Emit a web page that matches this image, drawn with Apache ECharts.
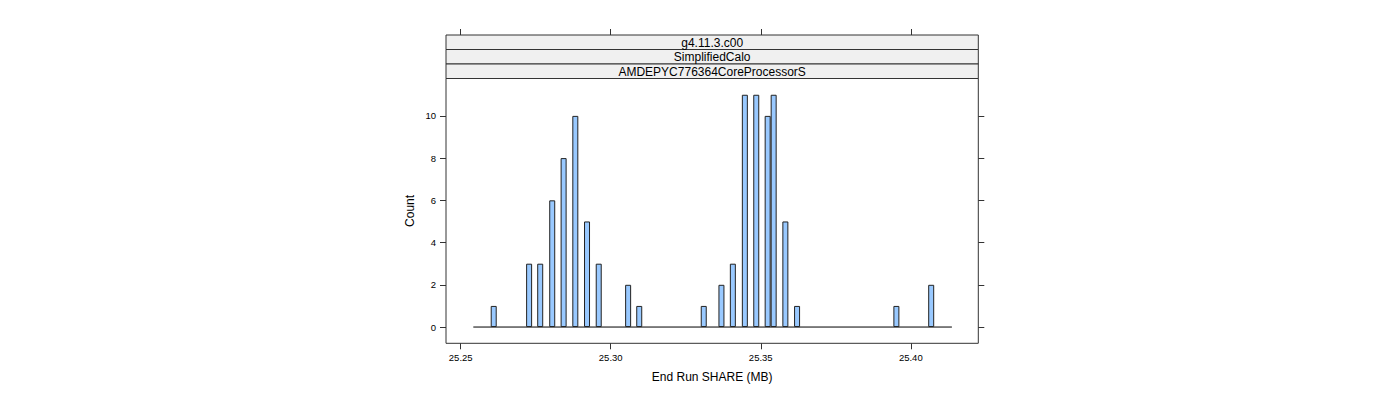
<!DOCTYPE html>
<html>
<head>
<meta charset="utf-8">
<script src="https://cdn.jsdelivr.net/npm/echarts@6/dist/echarts.min.js"></script>
<style>html,body{margin:0;padding:0;background:#fff;}#c{width:1400px;height:400px;}</style>
</head>
<body>
<div id="c"></div>
<script>
// End Run SHARE (MB) values for each bar
const shareValues = [25.2610, 25.2728, 25.2765, 25.2805, 25.2843, 25.2882, 25.2921, 25.2960, 25.3058, 25.3095,
                     25.3310, 25.3369, 25.3407, 25.3447, 25.3485, 25.3523, 25.3543, 25.3582, 25.3621, 25.3952, 25.4068];
const counts = [1, 3, 3, 6, 8, 10, 5, 3, 2, 1,
                1, 2, 3, 11, 11, 10, 11, 5, 1, 1, 2];
const baselineRange = [25.2542, 25.4137];
const xTicks = [25.25, 25.30, 25.35, 25.40];
const yTicks = [0, 2, 4, 6, 8, 10];
const stripLabels = ["g4.11.3.c00", "SimplifiedCalo", "AMDEPYC776364CoreProcessorS"];
const xTitle = "End Run SHARE (MB)";
const yTitle = "Count";

const FONT = "Liberation Sans, Arial, Helvetica, sans-serif";
const G = {left: 446, right: 978.3, top: 78.5, bottom: 343.3};
const stripTop = 35, stripH = 14.5;

const chart = echarts.init(document.getElementById('c'), null, {renderer: 'svg'});

const strips = [];
stripLabels.forEach((t, i) => {
  strips.push({
    type: 'rect',
    shape: {x: G.left, y: stripTop + i * stripH, width: G.right - G.left, height: stripH},
    style: {fill: '#f0f0f0', stroke: '#333', lineWidth: 1},
    z: 10
  });
  strips.push({
    type: 'text',
    x: (G.left + G.right) / 2,
    y: stripTop + i * stripH + stripH / 2 + 0.5,
    style: {text: t, fill: '#000', font: '12px ' + FONT, textAlign: 'center', textVerticalAlign: 'middle'},
    z: 11
  });
});

const tickStyle = {show: true, inside: false, length: 6, lineStyle: {color: '#333', width: 1}};

chart.setOption({
  animation: false,
  grid: {left: G.left, top: G.top, width: G.right - G.left, height: G.bottom - G.top,
         show: true, borderColor: '#333', borderWidth: 1, backgroundColor: 'transparent'},
  xAxis: [{
    type: 'value', min: 25.2451, max: 25.4225, position: 'bottom',
    splitLine: {show: false}, axisLine: {show: false, onZero: false},
    axisTick: Object.assign({customValues: xTicks}, tickStyle),
    axisLabel: {customValues: xTicks, formatter: v => v.toFixed(2), fontSize: 9.5, fontFamily: FONT, color: '#000', margin: 9},
    name: xTitle, nameLocation: 'middle', nameGap: 28,
    nameTextStyle: {fontSize: 12, fontFamily: FONT, color: '#000'}
  }, {
    type: 'value', min: 25.2451, max: 25.4225, position: 'top', offset: G.top - stripTop,
    splitLine: {show: false}, axisLine: {show: false, onZero: false},
    axisTick: Object.assign({customValues: xTicks}, tickStyle),
    axisLabel: {show: false}
  }],
  yAxis: [{
    type: 'value', min: -0.77, max: 11.77, position: 'left',
    splitLine: {show: false}, axisLine: {show: false, onZero: false},
    axisTick: Object.assign({customValues: yTicks}, tickStyle),
    axisLabel: {customValues: yTicks, fontSize: 9.5, fontFamily: FONT, color: '#000', margin: 10},
    name: yTitle, nameLocation: 'middle', nameGap: 30, nameRotate: 90,
    nameTextStyle: {fontSize: 12, fontFamily: FONT, color: '#000'}
  }, {
    type: 'value', min: -0.77, max: 11.77, position: 'right',
    splitLine: {show: false}, axisLine: {show: false, onZero: false},
    axisTick: Object.assign({customValues: yTicks}, tickStyle),
    axisLabel: {show: false}
  }],
  graphic: strips,
  series: [{
    type: 'line',
    data: baselineRange.map(x => [x, 0]),
    symbol: 'none',
    lineStyle: {color: '#000', width: 1},
    z: 1
  }, {
    type: 'bar',
    data: shareValues.map((x, i) => [x, counts[i]]),
    barWidth: 6,
    itemStyle: {color: '#99C9FF', borderColor: '#222', borderWidth: 1},
    z: 2
  }]
});
</script>
</body>
</html>
